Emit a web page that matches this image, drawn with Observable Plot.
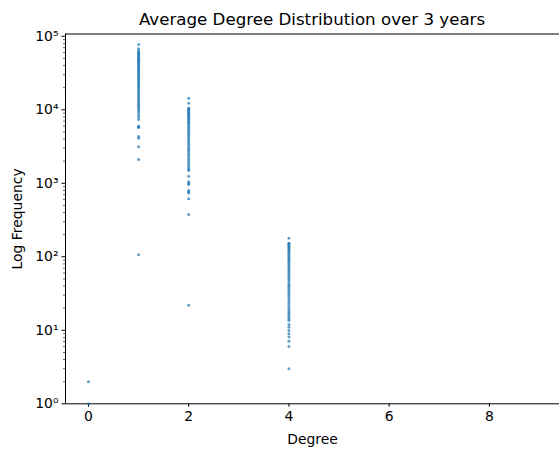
<!DOCTYPE html>
<html>
<head>
<meta charset="utf-8">
<script src="https://cdn.jsdelivr.net/npm/d3@7"></script>
<script src="https://cdn.jsdelivr.net/npm/@observablehq/plot@0.6"></script>
<style>
  html, body { margin: 0; padding: 0; background: #fff; }
  #wrap { width: 559px; height: 451px; overflow: hidden; font-family: "DejaVu Sans", sans-serif; }
  #title { height: 28px; width: 559px; position: relative; }
  #title span { position: absolute; left: 312px; top: 11.5px; transform: translateX(-50%); font-size: 16.67px; white-space: nowrap; color: #000; line-height: 1; }
</style>
</head>
<body>
<div id="wrap">
  <div id="title"><span>Average Degree Distribution over 3 years</span></div>
  <div id="chart"></div>
</div>
<script>
// Degrees on the x axis and the frequencies read at each degree
const degrees = [0, 1, 2, 4];
const freqDeg0 = [2, 1];
const freqDeg1 = [77300, 67600, 63500, 60800, 59000, 57200, 55500, 53800, 52100, 50400, 48700, 47100, 45500, 43900, 42300, 40800, 39300, 37800, 36400, 35000, 33600, 32300, 31000, 29700, 28500, 27300, 26100, 25000, 23900, 22800, 21800, 20800, 19800, 18900, 18000, 17100, 16300, 15500, 14700, 14000, 13300, 12600, 12000, 11400, 10800, 10300, 9700, 9100, 8500, 8000, 7380, 6000, 5850, 5750, 4330, 4110, 3140, 2110, 107];
const freqDeg2 = [14400, 12300, 10600, 10300, 10000, 9700, 9400, 9100, 8800, 8500, 8200, 7900, 7600, 7300, 7000, 6700, 6400, 6100, 5800, 5500, 5250, 5000, 4750, 4500, 4250, 4000, 3800, 3600, 3400, 3200, 3000, 2850, 2700, 2550, 2400, 2250, 2100, 1980, 1860, 1750, 1640, 1550, 1490, 1250, 1050, 1000, 960, 800, 770, 735, 615, 376, 22];
const freqDeg4 = [179, 153, 150, 145, 140, 135, 130, 125, 120, 115, 110, 105, 100, 96, 92, 88, 84, 80, 76, 72, 68, 64, 61, 58, 55, 52, 49, 46, 43, 41, 39, 37, 35, 33, 31, 29, 27, 25, 23.5, 22, 20.5, 19, 18, 17, 16, 15, 14.2, 13.6, 12, 11, 9.9, 9, 8.1, 7.1, 6.0, 3.0];
const xTicks = [0, 2, 4, 6, 8];
const yTicks = [1, 10, 100, 1000, 10000, 100000];
const yTickLabels = ["10⁰", "10¹", "10²", "10³", "10⁴", "10⁵"];

const freqLists = [freqDeg0, freqDeg1, freqDeg2, freqDeg4];
const points = degrees.flatMap((d, i) => freqLists[i].map(f => ({degree: d, freq: f})));

const yMinor = [];
for (let e = 0; e < 5; e++) for (let m = 2; m <= 9; m++) yMinor.push(m * Math.pow(10, e));

const xDomain = [-0.459, 9.40];
const yDomain = [1, 107400];

const chart = Plot.plot({
  width: 559,
  height: 423,
  marginLeft: 65,
  marginRight: 0,
  marginTop: 5.5,
  marginBottom: 47.7,
  style: {fontFamily: "DejaVu Sans, sans-serif", fontSize: "13.9px", color: "#000", background: "#fff", overflow: "visible"},
  x: {domain: xDomain},
  y: {type: "log", domain: yDomain},
  marks: [
    Plot.axisY({ticks: yMinor, tickSize: 2, tickFormat: () => "", stroke: "#000", strokeWidth: 0.6, label: null}),
    Plot.axisY({ticks: yTicks, tickSize: 3.5, tickPadding: 3.5, tickFormat: (d) => yTickLabels[yTicks.indexOf(d)],
      label: "Log Frequency", labelAnchor: "center", labelArrow: "none", labelOffset: 53}),
    Plot.axisX({ticks: xTicks, tickSize: 3.5, tickPadding: 3.5,
      label: "Degree", labelAnchor: "center", labelArrow: "none", labelOffset: 40}),
    Plot.ruleX([xDomain[0]], {stroke: "#000", strokeWidth: 1}),
    Plot.ruleY([yDomain[0]], {stroke: "#000", strokeWidth: 1}),
    Plot.ruleY([yDomain[1]], {stroke: "#000", strokeWidth: 1}),
    Plot.dot(points, {x: "degree", y: "freq", r: 1.5, fill: "#1f77b4", fillOpacity: 0.7, stroke: "none", clip: false})
  ]
});
document.getElementById("chart").appendChild(chart);
</script>
</body>
</html>
